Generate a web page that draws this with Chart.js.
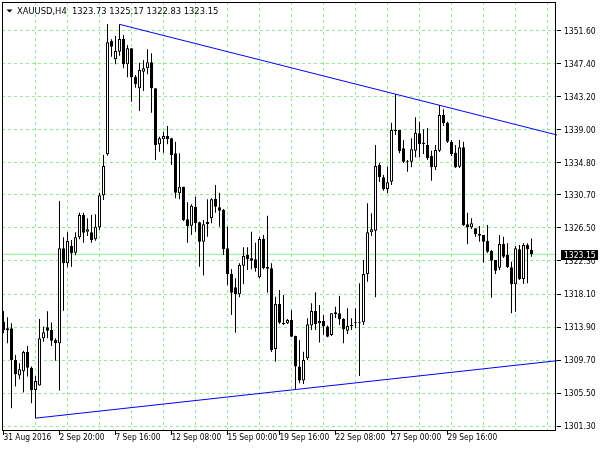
<!DOCTYPE html>
<html><head><meta charset="utf-8">
<script src="https://cdn.jsdelivr.net/npm/chart.js@4.4.0/dist/chart.umd.min.js"></script>
<style>html,body{margin:0;padding:0;background:#fff;}#wrap{width:600px;height:450px;}</style>
</head><body><div id="wrap"><canvas id="c" width="600" height="450"></canvas></div>
<script>
const symbol = 'XAUUSD';
const timeframe = 'H4';
const opens = [
1314.59,1313.50,1313.76,1309.73,1307.74,1308.29,1310.75,1308.75,1305.92,1306.47,
1312.49,1313.88,1313.54,1312.27,1311.85,1323.92,1322.01,1324.21,1323.36,1325.31,
1328.14,1326.02,1325.95,1325.06,1326.58,1330.65,1335.85,1350.24,1347.92,1348.88,
1350.50,1347.28,1349.32,1345.71,1344.23,1346.34,1346.78,1347.54,1344.23,1337.12,
1337.76,1338.18,1337.88,1335.98,1330.90,1331.74,1327.60,1326.79,1329.20,1327.22,
1324.75,1327.26,1327.73,1330.18,1329.12,1328.78,1323.92,1320.65,1318.96,1318.07,
1321.70,1323.06,1322.64,1322.51,1320.23,1325.09,1321.58,1321.37,1311.12,1316.84,
1314.46,1314.38,1314.80,1312.81,1308.88,1307.10,1309.94,1314.09,1315.95,1314.38,
1314.68,1313.96,1312.90,1315.53,1315.66,1314.94,1313.45,1314.05,1314.52,1314.38,
1314.52,1320.65,1325.95,1326.15,1334.49,1332.93,1331.44,1332.37,1338.94,1338.94,
1336.62,1335.04,1334.91,1336.31,1338.52,1337.33,1337.03,1335.64,1334.20,1336.31,
1340.84,1339.87,1337.45,1336.05,1334.28,1336.74,1326.96,1326.58,1326.45,1325.73,
1325.60,1324.84,1323.57,1322.42,1321.45,1324.46,1323.06,1321.50,1319.34,1323.78,
1320.01,1324.33,1323.73];
const highs = [
1315.95,1315.15,1314.39,1310.36,1309.31,1310.91,1311.51,1308.88,1307.70,1314.94,
1313.96,1315.91,1314.47,1312.49,1329.92,1325.31,1325.95,1324.97,1325.95,1328.44,
1328.44,1327.73,1328.14,1328.23,1330.98,1335.76,1352.40,1350.46,1350.88,1352.36,
1351.00,1349.73,1349.32,1345.92,1347.49,1347.83,1349.19,1348.68,1344.23,1338.09,
1338.72,1339.45,1337.96,1337.45,1335.98,1331.74,1329.76,1329.50,1330.47,1327.29,
1327.51,1330.14,1330.27,1331.95,1330.98,1328.90,1326.66,1321.28,1320.10,1322.01,
1324.04,1324.04,1326.02,1324.63,1325.39,1325.60,1328.05,1322.01,1317.76,1318.61,
1317.98,1314.93,1316.07,1312.81,1312.27,1310.78,1315.02,1316.93,1318.33,1316.71,
1315.44,1314.09,1315.66,1316.50,1317.86,1315.02,1316.30,1315.02,1316.30,1319.47,
1322.43,1329.63,1328.36,1337.03,1334.78,1333.22,1334.28,1339.87,1343.47,1338.94,
1337.67,1335.13,1337.88,1340.55,1339.99,1339.03,1339.19,1336.31,1337.03,1342.11,
1341.57,1339.99,1337.67,1337.03,1337.67,1337.45,1328.44,1327.73,1326.45,1326.74,
1325.60,1326.87,1323.69,1322.42,1325.60,1325.39,1324.55,1322.21,1324.20,1324.33,
1324.55,1324.55,1325.17];
const lows = [
1313.12,1311.85,1303.60,1306.34,1307.28,1305.58,1307.61,1304.23,1302.33,1306.47,
1312.05,1312.49,1311.51,1309.64,1305.83,1315.99,1321.50,1321.58,1323.03,1325.06,
1324.63,1325.48,1324.63,1324.88,1326.24,1330.05,1335.68,1348.25,1347.28,1348.38,
1346.78,1345.63,1342.53,1344.31,1341.35,1343.89,1346.01,1341.14,1335.13,1336.18,
1336.06,1337.12,1334.49,1330.27,1330.14,1327.38,1324.63,1325.60,1326.02,1321.58,
1320.44,1325.39,1327.09,1328.44,1326.66,1323.06,1319.25,1315.44,1313.19,1317.69,
1319.34,1321.15,1321.24,1320.94,1320.10,1321.24,1318.27,1310.74,1309.51,1314.30,
1314.17,1314.30,1312.65,1305.92,1306.77,1306.68,1309.73,1313.54,1313.54,1311.93,
1312.90,1312.61,1312.77,1315.06,1314.17,1311.85,1313.03,1313.54,1313.79,1307.70,
1314.17,1319.67,1325.48,1317.69,1332.33,1331.23,1330.90,1331.95,1338.30,1335.98,
1334.75,1333.64,1334.20,1335.47,1335.47,1335.89,1335.13,1332.50,1333.86,1336.14,
1339.45,1337.29,1335.64,1334.11,1334.11,1326.74,1324.42,1326.36,1325.39,1324.75,
1322.08,1323.31,1317.64,1320.65,1321.15,1322.68,1321.41,1315.65,1315.86,1319.88,
1319.38,1319.47,1322.83];
const closes = [
1313.54,1313.76,1309.73,1307.91,1308.55,1310.75,1308.75,1305.92,1307.06,1312.49,
1313.25,1313.45,1312.18,1311.85,1323.92,1322.01,1324.84,1323.28,1325.31,1328.14,
1325.90,1326.33,1324.97,1326.66,1330.65,1334.37,1350.08,1349.52,1348.97,1350.50,
1347.28,1349.32,1345.63,1344.74,1346.56,1346.78,1347.54,1344.23,1337.03,1337.88,
1338.18,1337.80,1335.76,1330.98,1331.74,1327.51,1326.75,1329.33,1327.09,1324.75,
1326.96,1327.00,1330.14,1329.20,1328.69,1323.82,1320.65,1318.27,1318.07,1321.79,
1322.93,1322.51,1322.34,1321.37,1325.09,1321.37,1321.32,1310.99,1316.84,1314.46,
1314.26,1314.80,1312.68,1308.88,1307.10,1309.73,1314.26,1315.95,1314.30,1314.68,
1313.96,1312.68,1315.66,1315.79,1314.90,1313.63,1314.05,1314.17,1314.38,1314.52,
1320.65,1325.95,1326.33,1334.37,1332.93,1331.41,1332.30,1338.94,1338.81,1336.27,
1334.91,1334.91,1336.49,1338.60,1337.16,1337.16,1335.34,1334.20,1336.40,1340.84,
1339.79,1337.45,1335.89,1334.20,1336.74,1326.87,1326.58,1327.09,1325.69,1325.51,
1324.75,1323.48,1322.34,1321.07,1324.46,1322.84,1321.50,1319.34,1323.92,1319.97,
1324.33,1323.78,1323.15];
const xTickIndex = [0, 14, 28, 42, 56, 69, 83, 97, 111];
const xTickLabels = ['31 Aug 2016','2 Sep 20:00','7 Sep 16:00','12 Sep 08:00','15 Sep 00:00','19 Sep 16:00','22 Sep 08:00','27 Sep 00:00','29 Sep 16:00'];
const yTickValues = [1301.30,1305.50,1309.70,1313.90,1318.10,1322.30,1326.50,1330.70,1334.80,1339.00,1343.20,1347.40,1351.60];
const trendUpper = [{x:29, y:1352.36}, {x:138.4, y:1338.30}];
const trendLower = [{x:8, y:1302.33}, {x:138.4, y:1309.63}];

const X_MIN = -0.375, X_MAX = 138.375;
const Y_MIN = 1300.70, Y_MAX = 1355.20;
const GRID = '#90ee90';
const FAMILY = "'DejaVu Sans Condensed', 'Liberation Sans', Arial, sans-serif";

const gridIdx = [];
for (let k = 8; k <= X_MAX; k += 8) gridIdx.push(k);
const allX = Array.from(new Set(gridIdx.concat(xTickIndex))).sort((a,b)=>a-b);
const last = closes.length - 1;
const bid = closes[last];

const overlay = {
  id: 'overlay',
  afterDraw(chart) {
    const ctx = chart.ctx, a = chart.chartArea;
    ctx.save();
    ctx.strokeStyle = '#000'; ctx.lineWidth = 1;
    ctx.strokeRect(Math.floor(a.left) + 0.5, Math.floor(a.top) + 0.5, Math.round(a.right - a.left) - 2, Math.round(a.bottom - a.top) - 1);
    ctx.fillStyle = '#000';
    ctx.beginPath(); ctx.moveTo(6.5, 9.5); ctx.lineTo(12.5, 9.5); ctx.lineTo(9.5, 12.5); ctx.closePath(); ctx.fill();
    ctx.font = "9.3px " + FAMILY;
    ctx.textBaseline = 'alphabetic'; ctx.textAlign = 'left';
    const head = symbol + ',' + timeframe + '  ' + [opens[last], highs[last], lows[last], closes[last]].map(v => v.toFixed(2)).join(' ');
    ctx.fillText(head, 17, 14);
    const y = chart.scales.y.getPixelForValue(bid);
    ctx.fillStyle = '#000';
    ctx.fillRect(561, Math.round(y) - 4, 37, 10);
    ctx.fillStyle = '#fff';
    ctx.font = "8.5px " + FAMILY;
    ctx.textBaseline = 'middle';
    ctx.fillText(bid.toFixed(2), 564, Math.round(y) + 1.5);
    ctx.restore();
  }
};

new Chart(document.getElementById('c'), {
  type: 'bar',
  data: {
    datasets: [
      {type:'line', data:[{x:X_MIN, y:bid},{x:X_MAX, y:bid}], borderColor:GRID, borderWidth:1, pointRadius:0, fill:false, order:5},
      {type:'bar', data: lows.map((l,i)=>({x:i, y:[l, highs[i]]})), backgroundColor:'#000', borderWidth:0, barThickness:1, grouped:false, inflateAmount:0, order:3},
      {type:'bar', data: opens.map((o,i)=>({x:i, y:[o, closes[i]]})), backgroundColor: opens.map((o,i)=> closes[i] >= o ? '#fff' : '#000'), borderColor:'#000', borderWidth:1, borderSkipped:false, barThickness:3, grouped:false, inflateAmount:0, order:2},
      {type:'line', data: trendUpper, borderColor:'#0000ff', borderWidth:1, pointRadius:0, fill:false, order:1},
      {type:'line', data: trendLower, borderColor:'#0000ff', borderWidth:1, pointRadius:0, fill:false, order:1}
    ]
  },
  options: {
    responsive:false, animation:false,
    layout:{padding:{left:2, top:2, right:0, bottom:0}},
    plugins:{legend:{display:false}, tooltip:{enabled:false}},
    scales:{
      x:{type:'linear', position:'bottom', min:X_MIN, max:X_MAX, offset:false,
        grid:{offset:false, lineWidth:1, tickLength:4,
          color: c => (c.tick && gridIdx.includes(c.tick.value)) ? GRID : 'rgba(0,0,0,0)',
          tickColor: c => (c.tick && xTickIndex.includes(c.tick.value)) ? '#000' : 'rgba(0,0,0,0)'},
        border:{display:false, dash:[3,3]},
        ticks:{autoSkip:false, maxRotation:0, minRotation:0, align:'start', padding:-2, color:'#000', font:{family:FAMILY, size:8.3},
          callback: v => { const k = xTickIndex.indexOf(v); return k >= 0 ? xTickLabels[k] : ''; }},
        afterBuildTicks: s => { s.ticks = allX.map(v => ({value:v})); },
        afterFit: s => { s.height = 19; s.paddingLeft = 0; s.paddingRight = 0; s.paddingTop = 0; s.paddingBottom = 0; }
      },
      y:{type:'linear', position:'right', min:Y_MIN, max:Y_MAX, beginAtZero:false,
        grid:{color:GRID, tickColor:'#000', tickLength:4, lineWidth:1},
        border:{display:false, dash:[3,3]},
        ticks:{padding:3, labelOffset:1, color:'#000', font:{family:FAMILY, size:8.5}, callback: v => Number(v).toFixed(2)},
        afterBuildTicks: s => { s.ticks = yTickValues.map(v => ({value:v})); },
        afterFit: s => { s.width = 43; s.paddingTop = 0; s.paddingBottom = 0; s.paddingLeft = 0; s.paddingRight = 0; }
      }
    }
  },
  plugins:[overlay]
});
</script></body></html>
